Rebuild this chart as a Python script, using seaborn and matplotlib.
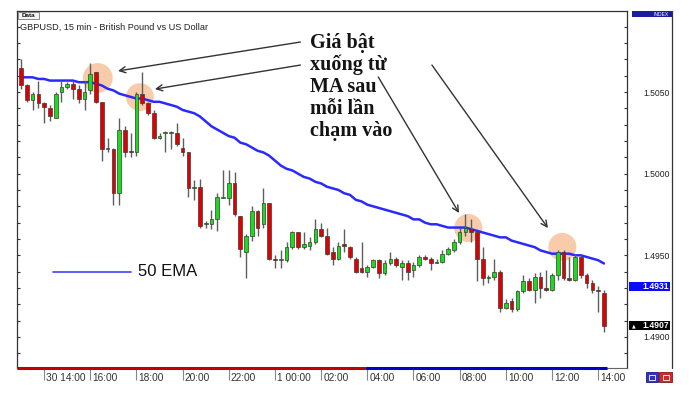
import matplotlib
matplotlib.use("Agg")
import matplotlib.pyplot as plt
import matplotlib.transforms as mtrans
from matplotlib.patches import Rectangle
from matplotlib.lines import Line2D
from matplotlib.ticker import MultipleLocator, FormatStrFormatter
import seaborn as sns
import numpy as np
import pandas as pd

# ---------------- data (GBPUSD 15 min candles) ----------------
opens = [1.5065, 1.5054, 1.5045, 1.5049, 1.5043, 1.5040, 1.5034, 1.5050, 1.5053, 1.5055,
         1.5052, 1.5046, 1.5051, 1.5062, 1.5044, 1.5015, 1.5015, 1.4988, 1.5027, 1.5014,
         1.5013, 1.5049, 1.5043, 1.5037, 1.5022, 1.5025, 1.5025, 1.5025, 1.5016, 1.5013,
         1.4991, 1.4992, 1.4969, 1.4969, 1.4972, 1.4985, 1.4985, 1.4994, 1.4974, 1.4952,
         1.4962, 1.4977, 1.4969, 1.4982, 1.4948, 1.4947, 1.4947, 1.4955, 1.4964, 1.4955,
         1.4956, 1.4958, 1.4966, 1.4962, 1.4952, 1.4948, 1.4957, 1.4955, 1.4948, 1.4942,
         1.4940, 1.4943, 1.4947, 1.4939, 1.4945, 1.4948, 1.4943, 1.4945, 1.4941, 1.4944,
         1.4949, 1.4948, 1.4945, 1.4946, 1.4951, 1.4953, 1.4958, 1.4964, 1.4966, 1.4964,
         1.4948, 1.4936, 1.4937, 1.4940, 1.4918, 1.4922, 1.4917, 1.4928, 1.4934, 1.4929,
         1.4937, 1.4930, 1.4929, 1.4938, 1.4952, 1.4936, 1.4935, 1.4949, 1.4938, 1.4933,
         1.4929, 1.4927]
highs = [1.5070, 1.5055, 1.5050, 1.5057, 1.5044, 1.5042, 1.5050, 1.5057, 1.5056, 1.5057,
         1.5054, 1.5057, 1.5068, 1.5062, 1.5044, 1.5022, 1.5016, 1.5034, 1.5029, 1.5025,
         1.5050, 1.5062, 1.5044, 1.5039, 1.5025, 1.5026, 1.5026, 1.5031, 1.5022, 1.5013,
         1.4996, 1.4997, 1.4971, 1.4978, 1.4988, 1.5002, 1.5002, 1.5001, 1.4974, 1.4963,
         1.4980, 1.4978, 1.4991, 1.4982, 1.4950, 1.4953, 1.4958, 1.4965, 1.4964, 1.4964,
         1.4961, 1.4972, 1.4970, 1.4967, 1.4955, 1.4958, 1.4966, 1.4956, 1.4949, 1.4958,
         1.4944, 1.4948, 1.4948, 1.4947, 1.4952, 1.4949, 1.4947, 1.4947, 1.4946, 1.4950,
         1.4950, 1.4949, 1.4948, 1.4953, 1.4955, 1.4960, 1.4967, 1.4975, 1.4972, 1.4964,
         1.4955, 1.4938, 1.4948, 1.4941, 1.4923, 1.4924, 1.4929, 1.4938, 1.4936, 1.4939,
         1.4940, 1.4941, 1.4939, 1.4953, 1.4953, 1.4949, 1.4951, 1.4950, 1.4939, 1.4935,
         1.4931, 1.4929]
lows = [1.5052, 1.5044, 1.5039, 1.5040, 1.5031, 1.5032, 1.5034, 1.5044, 1.5052, 1.5046,
        1.5043, 1.5039, 1.5049, 1.5043, 1.5008, 1.5013, 1.4981, 1.4981, 1.5010, 1.5010,
        1.5011, 1.5042, 1.5036, 1.5021, 1.5021, 1.5013, 1.5015, 1.5017, 1.5011, 1.4986,
        1.4984, 1.4967, 1.4967, 1.4966, 1.4965, 1.4985, 1.4981, 1.4974, 1.4949, 1.4936,
        1.4959, 1.4962, 1.4967, 1.4947, 1.4942, 1.4942, 1.4946, 1.4954, 1.4954, 1.4954,
        1.4953, 1.4957, 1.4961, 1.4950, 1.4944, 1.4947, 1.4952, 1.4948, 1.4939, 1.4939,
        1.4937, 1.4942, 1.4936, 1.4938, 1.4944, 1.4943, 1.4935, 1.4935, 1.4937, 1.4943,
        1.4947, 1.4941, 1.4945, 1.4945, 1.4950, 1.4952, 1.4957, 1.4962, 1.4958, 1.4934,
        1.4932, 1.4933, 1.4935, 1.4915, 1.4917, 1.4915, 1.4916, 1.4927, 1.4928, 1.4921,
        1.4924, 1.4928, 1.4928, 1.4935, 1.4935, 1.4934, 1.4934, 1.4936, 1.4930, 1.4927,
        1.4915, 1.4903]
closes = [1.5054, 1.5045, 1.5049, 1.5043, 1.5041, 1.5035, 1.5049, 1.5053, 1.5055, 1.5052,
          1.5046, 1.5050, 1.5061, 1.5044, 1.5015, 1.5016, 1.4988, 1.5027, 1.5013, 1.5013,
          1.5049, 1.5043, 1.5037, 1.5022, 1.5023, 1.5025, 1.5025, 1.5018, 1.5013, 1.4991,
          1.4992, 1.4968, 1.4970, 1.4972, 1.4986, 1.4986, 1.4994, 1.4975, 1.4954, 1.4962,
          1.4977, 1.4967, 1.4982, 1.4948, 1.4947, 1.4948, 1.4955, 1.4964, 1.4955, 1.4957,
          1.4958, 1.4966, 1.4962, 1.4951, 1.4948, 1.4956, 1.4956, 1.4949, 1.4940, 1.4940,
          1.4943, 1.4947, 1.4939, 1.4945, 1.4948, 1.4944, 1.4945, 1.4940, 1.4944, 1.4949,
          1.4948, 1.4945, 1.4946, 1.4951, 1.4954, 1.4958, 1.4964, 1.4967, 1.4964, 1.4948,
          1.4936, 1.4937, 1.4940, 1.4918, 1.4921, 1.4917, 1.4928, 1.4934, 1.4929, 1.4937,
          1.4930, 1.4929, 1.4938, 1.4952, 1.4936, 1.4935, 1.4949, 1.4938, 1.4933, 1.4929,
          1.4928, 1.4907]
ema50 = [1.5059, 1.5059, 1.5059, 1.5058, 1.5058, 1.5057, 1.5057, 1.5057, 1.5057, 1.5057,
         1.5056, 1.5056, 1.5056, 1.5055, 1.5054, 1.5052, 1.5051, 1.5049, 1.5048, 1.5047,
         1.5046, 1.5046, 1.5045, 1.5044, 1.5044, 1.5043, 1.5042, 1.5041, 1.5039, 1.5038,
         1.5037, 1.5035, 1.5032, 1.5029, 1.5027, 1.5025, 1.5023, 1.5022, 1.5019, 1.5018,
         1.5016, 1.5014, 1.5013, 1.5011, 1.5008, 1.5005, 1.5003, 1.5002, 1.5000, 1.4998,
         1.4997, 1.4995, 1.4994, 1.4992, 1.4991, 1.4990, 1.4988, 1.4987, 1.4984, 1.4983,
         1.4981, 1.4980, 1.4979, 1.4978, 1.4977, 1.4976, 1.4975, 1.4974, 1.4972, 1.4972,
         1.4970, 1.4969, 1.4969, 1.4968, 1.4967, 1.4967, 1.4967, 1.4967, 1.4966, 1.4965,
         1.4964, 1.4963, 1.4962, 1.4961, 1.4961, 1.4959, 1.4958, 1.4957, 1.4956, 1.4955,
         1.4953, 1.4952, 1.4951, 1.4951, 1.4951, 1.4951, 1.4950, 1.4950, 1.4949, 1.4948,
         1.4947, 1.4945]

time_labels = ["30 14:00", "16:00", "18:00", "20:00", "22:00", "1 00:00", "02:00",
               "04:00", "06:00", "08:00", "10:00", "12:00", "14:00"]
time_label_idx = [4, 12, 20, 28, 36, 44, 52, 60, 68, 76, 84, 92, 100]

# touch points highlighted on the chart (candle index, price)
touch_idx = [13.3, 20.6, 77.5, 93.8]
touch_price = [1.50586, 1.50469, 1.49667, 1.49551]

price_labels = [1.4900, 1.4950, 1.5000, 1.5050]
marker_price_blue = 1.4931
last_price = 1.4907

annot_lines = ["Giá bật", "xuống từ", "MA sau", "mỗi lần", "chạm vào"]
legend_text = "50 EMA"
title_text = "GBPUSD, 15 min - British Pound vs US Dollar"

# ---------------- figure ----------------
sns.set_theme(style="white")
plt.rcParams['font.family'] = ['Liberation Sans', 'DejaVu Sans']

W, H = 689, 395
fig = plt.figure(figsize=(W / 100, H / 100), dpi=100)
fig.patch.set_facecolor('white')


def fx(x):
    return x / W


def fy(y):
    return 1 - y / H


L, R, T, B = 17, 627, 11, 368
ax = fig.add_axes([fx(L), fy(B), (R - L) / W, (B - T) / H])
ax.set_facecolor('white')

n = len(opens)
df = pd.DataFrame(dict(idx=np.arange(n), open=opens, high=highs, low=lows,
                       close=closes, ema=ema50))

# highlight circles
ax.scatter(touch_idx, touch_price, s=[460, 400, 410, 410], color='#f7bf95',
           alpha=0.8, linewidths=0, zorder=1)

# EMA line
sns.lineplot(data=df, x='idx', y='ema', ax=ax, color='#2a2aff', linewidth=1.8,
             zorder=2, legend=False)

# candles
ax.vlines(df['idx'], df['low'], df['high'], color='#5e5e5e', linewidth=1.0, zorder=3)
bull = df['close'] >= df['open']
body_bottom = np.minimum(df['open'], df['close'])
body_h = np.maximum(np.abs(df['close'] - df['open']), 0.00005)
colors = np.where(bull, '#18dd18', '#e00000')
ax.bar(df['idx'], body_h, bottom=body_bottom, width=0.64, color=colors,
       edgecolor='#3a3a3a', linewidth=0.5, zorder=4)

ax.set_xlim(-0.7, 105.0)
ax.set_ylim(1.48810, 1.50996)
ax.set_xlabel('')
ax.set_ylabel('')

# y axis: minor ticks each 10 pips, labels every 50 pips on the right
ax.yaxis.set_major_locator(MultipleLocator(0.005))
ax.yaxis.set_minor_locator(MultipleLocator(0.001))
ax.yaxis.set_major_formatter(FormatStrFormatter('%.4f'))
ax.tick_params(axis='y', which='both', left=True, right=True, labelleft=False,
               labelright=True, direction='in', length=2.5, width=0.8, color='#333333')
ax.tick_params(axis='y', which='major', pad=11.5, labelsize=6.2, labelcolor='#222222')

# x axis: time labels
ax.set_xticks(time_label_idx)
ax.set_xticklabels(time_labels)
ax.tick_params(axis='x', which='major', bottom=True, direction='out', length=8.6,
               width=0.8, color='#888888', pad=-5.2, labelsize=7.3, labelcolor='#333333')
offset = mtrans.ScaledTranslation(0.02, 0, fig.dpi_scale_trans)
for lbl in ax.get_xticklabels():
    lbl.set_horizontalalignment('left')
    lbl.set_transform(lbl.get_transform() + offset)

for side in ['left', 'top', 'right']:
    ax.spines[side].set_color('#333333')
    ax.spines[side].set_linewidth(0.9)
ax.spines['bottom'].set_color('#666666')
ax.spines['bottom'].set_linewidth(0.8)

# bottom scroll bar colours
ax.plot([0, 0.5705], [0, 0], transform=ax.transAxes, color='#c00000', lw=2.2,
        clip_on=False, zorder=6, solid_capstyle='butt')
ax.plot([0.5705, 0.967], [0, 0], transform=ax.transAxes, color='#0000c8', lw=2.2,
        clip_on=False, zorder=6, solid_capstyle='butt')

# price boxes on the right axis
bt = mtrans.blended_transform_factory(ax.transAxes, ax.transData)
box_h = 0.00056
for price, fc, tri in [(marker_price_blue, '#0a0aff', False), (last_price, '#000000', True)]:
    ax.add_patch(Rectangle((1.0033, price - box_h / 2), 0.0672, box_h, transform=bt,
                           facecolor=fc, edgecolor='none', clip_on=False, zorder=7))
    ax.text(1.0262, price, f"{price:.4f}", transform=bt, color='white', fontsize=6.2,
            fontweight='bold', ha='left', va='center', clip_on=False, zorder=8)
    if tri:
        ax.text(1.0085, price, "▲", transform=bt, color='white', fontsize=3.5,
                ha='left', va='center', clip_on=False, zorder=8, family='DejaVu Sans')

# legend (50 EMA)
ax.plot([0.059, 0.187], [0.269, 0.269], transform=ax.transAxes, color='#5050ff', lw=1.3)
ax.text(0.198, 0.269, legend_text, transform=ax.transAxes, fontsize=12,
        color='#111111', ha='left', va='center')

# arrows
arrow_kw = dict(arrowstyle='->', color='#333333', lw=1.0, shrinkA=0, shrinkB=0,
                mutation_scale=11)
arrows = [((16.8, 1.50629), (48.4, 1.50806)),
          ((23.2, 1.50518), (48.4, 1.50665)),
          ((75.9, 1.49759), (61.9, 1.50592)),
          ((91.3, 1.49667), (71.2, 1.50665))]
for tip, start in arrows:
    ax.annotate('', xy=tip, xytext=start, xycoords='data', textcoords='data',
                arrowprops=arrow_kw, annotation_clip=False)

# annotation text
for k, line in enumerate(annot_lines):
    fig.text(fx(310), fy(48 + 22 * k), line, fontsize=14.5, fontweight='bold',
             family=['Liberation Serif', 'DejaVu Serif'], color='#141414',
             ha='left', va='baseline')

# title and small header boxes
fig.text(fx(20), fy(27), title_text, fontsize=6.6, color='#222222', ha='left', va='center')
fig.add_artist(Rectangle((fx(18), fy(19)), 21 / W, 7 / H, transform=fig.transFigure,
                         facecolor='#f2f2f2', edgecolor='#777777', linewidth=0.6))
fig.text(fx(28.5), fy(15.5), "Data", fontsize=4.6, fontweight='bold', color='#111111',
         ha='center', va='center')
fig.add_artist(Rectangle((fx(632), fy(17)), 40 / W, 6 / H, transform=fig.transFigure,
                         facecolor='#1c1ca0', edgecolor='none'))
fig.text(fx(669), fy(14), "INDEX", fontsize=3.6, color='white', ha='right', va='center')

# right border of the price panel
fig.add_artist(Line2D([fx(672), fx(672)], [fy(11), fy(368)], transform=fig.transFigure,
                      color='#333333', lw=0.9))

# bottom-right buttons
fig.add_artist(Rectangle((fx(646), fy(382)), 12 / W, 10 / H, transform=fig.transFigure,
                         facecolor='#3232c8', edgecolor='#1a1a80', linewidth=0.6))
fig.add_artist(Rectangle((fx(649), fy(379.5)), 6 / W, 5 / H, transform=fig.transFigure,
                         facecolor='none', edgecolor='white', linewidth=0.6))
fig.add_artist(Rectangle((fx(659), fy(382)), 13 / W, 10 / H, transform=fig.transFigure,
                         facecolor='#d02828', edgecolor='#801a1a', linewidth=0.6))
fig.add_artist(Rectangle((fx(662.5), fy(379.5)), 6 / W, 5 / H, transform=fig.transFigure,
                         facecolor='none', edgecolor='white', linewidth=0.6))

fig.savefig('out.png', dpi=100)
